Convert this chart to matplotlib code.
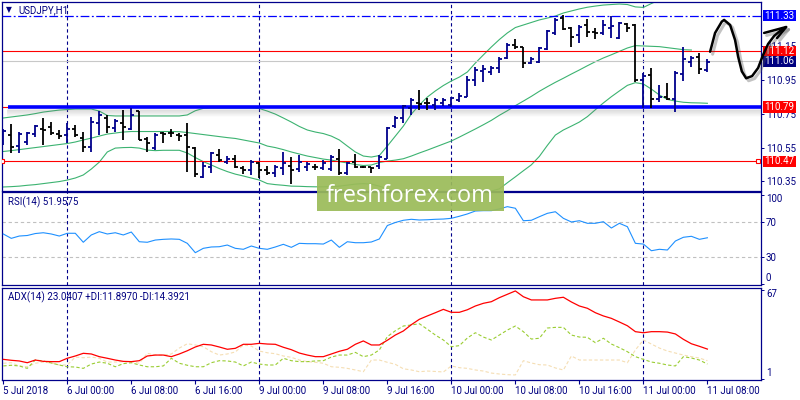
import numpy as np
import matplotlib
matplotlib.use('Agg')
import matplotlib.pyplot as plt
from matplotlib import transforms
from matplotlib.patches import Rectangle

plt.rcParams['font.family'] = ['Roboto', 'DejaVu Sans']

# USDJPY H1 bars, 5 Jul 16:00 .. 11 Jul 08:00
bar_open = [110.636, 110.624, 110.559, 110.585, 110.630, 110.660, 110.673, 110.630, 110.624, 110.660,
            110.608, 110.555, 110.695, 110.723, 110.666, 110.697, 110.658, 110.768, 110.599, 110.545,
            110.634, 110.638, 110.624, 110.624, 110.545, 110.377, 110.437, 110.506, 110.466, 110.480,
            110.427, 110.417, 110.457, 110.417, 110.397, 110.427, 110.441, 110.421, 110.437, 110.437,
            110.427, 110.421, 110.480, 110.397, 110.466, 110.437, 110.433, 110.441, 110.480, 110.678,
            110.723, 110.782, 110.815, 110.815, 110.802, 110.815, 110.802, 110.831, 110.851, 110.950,
            111.003, 110.999, 111.019, 111.078, 111.157, 111.143, 111.048, 111.058, 111.131, 111.226,
            111.315, 111.256, 111.216, 111.275, 111.235, 111.230, 111.256, 111.196, 111.281, 111.275,
            110.950, 110.979, 110.836, 110.847, 110.836, 110.985, 111.058, 111.088, 111.009]
bar_high = [110.660, 110.689, 110.642, 110.644, 110.683, 110.725, 110.703, 110.654, 110.695, 110.683,
            110.644, 110.733, 110.766, 110.743, 110.719, 110.772, 110.784, 110.768, 110.614, 110.634,
            110.644, 110.658, 110.638, 110.693, 110.555, 110.466, 110.525, 110.540, 110.500, 110.506,
            110.441, 110.476, 110.466, 110.441, 110.447, 110.525, 110.496, 110.506, 110.466, 110.453,
            110.476, 110.506, 110.540, 110.466, 110.512, 110.441, 110.437, 110.506, 110.673, 110.737,
            110.802, 110.841, 110.891, 110.841, 110.841, 110.841, 110.847, 110.871, 110.973, 111.028,
            111.038, 111.032, 111.084, 111.167, 111.190, 111.147, 111.084, 111.143, 111.246, 111.315,
            111.334, 111.261, 111.275, 111.309, 111.256, 111.305, 111.328, 111.295, 111.289, 111.281,
            110.989, 111.019, 110.920, 110.930, 111.005, 111.143, 111.092, 111.108, 111.072]
bar_low = [110.565, 110.519, 110.519, 110.565, 110.614, 110.565, 110.624, 110.599, 110.577, 110.614,
           110.525, 110.525, 110.624, 110.634, 110.644, 110.595, 110.654, 110.595, 110.522, 110.535,
           110.579, 110.614, 110.591, 110.407, 110.377, 110.368, 110.398, 110.466, 110.453, 110.427,
           110.393, 110.388, 110.368, 110.388, 110.377, 110.388, 110.334, 110.407, 110.411, 110.417,
           110.417, 110.413, 110.388, 110.388, 110.427, 110.427, 110.398, 110.421, 110.480, 110.666,
           110.693, 110.743, 110.772, 110.772, 110.772, 110.796, 110.792, 110.821, 110.847, 110.914,
           110.940, 110.979, 110.993, 111.072, 111.131, 111.019, 111.044, 111.048, 111.127, 111.216,
           111.246, 111.147, 111.170, 111.206, 111.190, 111.216, 111.196, 111.190, 111.235, 110.940,
           110.782, 110.782, 110.821, 110.831, 110.762, 110.946, 111.028, 110.985, 110.999]
bar_close = [110.648, 110.555, 110.630, 110.634, 110.677, 110.654, 110.634, 110.618, 110.660, 110.624,
             110.555, 110.703, 110.743, 110.672, 110.709, 110.672, 110.743, 110.595, 110.575, 110.624,
             110.632, 110.634, 110.621, 110.555, 110.393, 110.441, 110.516, 110.476, 110.480, 110.433,
             110.417, 110.466, 110.417, 110.397, 110.433, 110.457, 110.417, 110.466, 110.453, 110.433,
             110.460, 110.496, 110.397, 110.457, 110.437, 110.433, 110.429, 110.492, 110.664, 110.725,
             110.796, 110.831, 110.808, 110.812, 110.831, 110.831, 110.841, 110.855, 110.950, 111.009,
             111.015, 111.019, 111.072, 111.157, 111.143, 111.052, 111.072, 111.137, 111.241, 111.305,
             111.250, 111.206, 111.265, 111.235, 111.230, 111.275, 111.269, 111.289, 111.256, 110.950,
             110.973, 110.836, 110.851, 110.836, 110.993, 111.072, 111.078, 111.013, 111.058]

# Bollinger bands
bb_upper = [110.725, 110.731, 110.737, 110.743, 110.751, 110.760, 110.766, 110.772, 110.775, 110.778,
            110.778, 110.778, 110.766, 110.740, 110.737, 110.737, 110.737, 110.737, 110.737, 110.737,
            110.737, 110.737, 110.737, 110.743, 110.768, 110.782, 110.784, 110.784, 110.784, 110.784,
            110.784, 110.784, 110.781, 110.766, 110.748, 110.725, 110.701, 110.675, 110.654, 110.642,
            110.633, 110.618, 110.595, 110.559, 110.524, 110.500, 110.494, 110.503, 110.559, 110.618,
            110.677, 110.748, 110.802, 110.849, 110.885, 110.917, 110.944, 110.967, 110.997, 111.050,
            111.098, 111.145, 111.189, 111.228, 111.260, 111.275, 111.290, 111.305, 111.316, 111.328,
            111.346, 111.358, 111.370, 111.380, 111.387, 111.393, 111.396, 111.399, 111.396, 111.382,
            111.379, 111.402, 111.423, 111.447, 111.459, 111.459, 111.464, 111.464, 111.464]
bb_middle = [110.527, 110.532, 110.538, 110.544, 110.550, 110.556, 110.562, 110.568, 110.574, 110.583,
             110.595, 110.606, 110.618, 110.630, 110.636, 110.642, 110.645, 110.645, 110.645, 110.645,
             110.645, 110.645, 110.644, 110.639, 110.633, 110.627, 110.621, 110.615, 110.609, 110.604,
             110.595, 110.586, 110.577, 110.559, 110.550, 110.538, 110.524, 110.512, 110.500, 110.491,
             110.482, 110.476, 110.467, 110.459, 110.450, 110.444, 110.447, 110.462, 110.470, 110.476,
             110.484, 110.500, 110.518, 110.535, 110.553, 110.571, 110.589, 110.612, 110.636, 110.660,
             110.685, 110.711, 110.741, 110.768, 110.798, 110.825, 110.853, 110.883, 110.910, 110.936,
             110.960, 110.985, 111.009, 111.034, 111.058, 111.080, 111.099, 111.119, 111.139, 111.153,
             111.151, 111.149, 111.147, 111.141, 111.135, 111.129, 111.127, None, None]
bb_lower = [110.317, 110.319, 110.322, 110.327, 110.331, 110.337, 110.343, 110.349, 110.358, 110.370,
            110.388, 110.423, 110.464, 110.524, 110.547, 110.550, 110.551, 110.547, 110.535, 110.532,
            110.534, 110.534, 110.534, 110.518, 110.491, 110.467, 110.447, 110.426, 110.408, 110.393,
            110.382, 110.370, 110.358, 110.337, 110.331, 110.327, 110.322, 110.321, 110.319, 110.318,
            110.318, 110.319, 110.322, 110.328, 110.334, 110.337, 110.334, 110.322, 110.305, 110.281,
            110.257, 110.240, 110.228, 110.222, 110.222, 110.228, 110.234, 110.240, 110.251, 110.263,
            110.275, 110.293, 110.306, 110.342, 110.377, 110.413, 110.448, 110.498, 110.563, 110.624,
            110.654, 110.677, 110.701, 110.733, 110.774, 110.814, 110.851, 110.885, 110.918, 110.934,
            110.926, 110.896, 110.861, 110.835, 110.825, 110.818, 110.815, 110.814, 110.812]

rsi = [56.2, 51.3, 53.9, 54.5, 56.7, 57.6, 56.2, 53.9, 57.0, 57.0,
       46.9, 55.1, 58.8, 56.2, 57.6, 55.1, 58.4, 47.5, 46.9, 49.4,
       50.2, 50.6, 50.2, 45.7, 35.2, 40.1, 41.6, 41.9, 43.8, 40.1,
       39.0, 42.7, 40.1, 39.0, 41.6, 44.6, 41.2, 45.7, 45.3, 45.3,
       44.9, 49.4, 41.2, 47.5, 46.4, 46.4, 47.2, 50.6, 65.7, 69.1,
       71.6, 72.7, 71.9, 72.2, 72.7, 73.0, 73.8, 76.1, 78.7, 82.0,
       82.4, 82.4, 84.3, 86.9, 85.1, 71.1, 71.6, 75.6, 79.4, 81.2,
       73.8, 69.7, 71.1, 68.2, 68.2, 70.0, 62.9, 68.2, 64.4, 45.7,
       44.9, 37.4, 39.0, 38.2, 48.3, 52.5, 53.6, 50.2, 51.9575]

adx = [15.4, 14.7, 14.2, 12.9, 14.9, 13.9, 13.7, 13.7, 16.2, 17.9,
       19.9, 19.4, 17.4, 16.2, 14.9, 13.9, 13.7, 14.4, 17.9, 18.6,
       18.6, 17.4, 19.4, 21.8, 24.6, 26.6, 26.1, 24.6, 22.9, 23.6,
       26.6, 26.6, 27.3, 26.8, 26.6, 24.4, 22.6, 20.1, 18.6, 17.4,
       17.4, 19.4, 21.4, 22.9, 26.6, 29.1, 26.1, 26.1, 29.6, 33.5,
       36.5, 41.2, 45.2, 47.7, 50.1, 52.6, 50.4, 50.4, 52.3, 55.1,
       57.1, 58.3, 61.3, 63.8, 66.3, 62.0, 59.6, 59.6, 59.6, 60.8,
       61.6, 58.1, 55.1, 53.4, 50.1, 47.7, 45.9, 43.2, 40.4, 36.0,
       35.2, 36.0, 36.0, 35.7, 34.3, 30.3, 27.0, 25.1, 23.0407]
plus_di = [10.5, 11.0, 10.5, 8.7, 14.9, 14.2, 12.7, 11.2, 9.9, 9.7,
           8.7, 11.9, 13.4, 12.5, 9.9, 12.2, 12.9, 11.2, 9.9, 9.9,
           10.5, 16.2, 12.5, 11.0, 9.9, 9.9, 12.9, 14.4, 14.2, 13.4,
           10.5, 13.4, 11.9, 11.2, 11.2, 16.2, 14.4, 13.7, 13.7, 14.2,
           14.4, 17.1, 18.6, 18.6, 20.6, 17.4, 18.6, 22.4, 32.3, 36.7,
           40.2, 41.0, 41.9, 37.8, 33.5, 29.8, 24.8, 25.6, 31.3, 35.2,
           32.0, 29.8, 33.5, 37.2, 40.2, 36.0, 30.5, 31.1, 38.7, 39.2,
           39.2, 33.5, 32.0, 31.8, 27.8, 31.1, 26.8, 24.1, 21.1, 17.4,
           15.4, 13.4, 12.5, 11.2, 10.5, 17.4, 16.4, 14.9, 11.8970]
minus_di = [12.5, 12.9, 10.5, 9.9, 12.5, 13.4, 12.7, 11.2, 11.2, 17.1,
            16.6, 17.1, 16.2, 13.4, 13.4, 13.7, 13.7, 12.5, 19.9, 18.6,
            18.6, 19.4, 23.8, 27.0, 26.1, 24.8, 21.1, 18.6, 19.4, 20.9,
            26.1, 25.3, 21.6, 20.3, 19.6, 17.9, 16.9, 14.9, 13.7, 13.2,
            12.5, 9.9, 9.5, 8.7, 7.5, 6.2, 14.9, 14.9, 13.2, 11.7,
            8.4, 7.5, 6.2, 6.7, 6.4, 6.0, 10.5, 9.2, 8.7, 7.5,
            6.7, 5.2, 4.5, 4.0, 3.8, 14.4, 12.7, 11.4, 11.2, 9.0,
            7.5, 17.9, 14.9, 14.9, 14.9, 14.9, 14.9, 14.9, 12.9, 22.4,
            29.8, 26.8, 23.8, 21.6, 20.1, 18.6, 17.4, 16.4, 14.3921]

time_labels = ['5 Jul 2018', '6 Jul 00:00', '6 Jul 08:00', '6 Jul 16:00', '9 Jul 00:00', '9 Jul 08:00',
               '9 Jul 16:00', '10 Jul 00:00', '10 Jul 08:00', '10 Jul 16:00', '11 Jul 00:00', '11 Jul 08:00']
hours_per_label = 8

price_ticks = [111.15, 110.95, 110.75, 110.55, 110.35]
level_prices = [111.33, 111.12, 111.06, 110.79, 110.47]
level_names = ['111.33', '111.12', '111.06', '110.79', '110.47']
level_box = ['#0000ff', '#ff0000', '#000080', '#ff0000', '#ff0000']
support = 110.79

# hand drawn forecast curve (bar index, price)
sketch_x = [88.34, 88.96, 89.80, 90.09, 90.84, 91.46, 91.84, 92.30, 92.84, 93.59, 94.34, 94.96, 95.59, 96.34, 97.09, 97.84]
sketch_p = [111.117, 111.228, 111.295, 111.305, 111.275, 111.186, 111.088, 111.001, 110.960, 110.973,
            111.021, 111.098, 111.163, 111.210, 111.240, 111.263]
head_x = [95.09, 97.84, 96.71]
head_p = [111.228, 111.263, 111.198]

navy = '#000080'
frame = '#00008b'

W, H = 800, 400
fig = plt.figure(figsize=(8, 4), dpi=100)


def panel(top, bottom):
    return [2 / W, 1 - bottom / H, 759 / W, (bottom - top) / H]


ax = fig.add_axes(panel(2, 190.7))
ax_rsi = fig.add_axes(panel(192.5, 285), sharex=ax)
ax_adx = fig.add_axes(panel(287.5, 380), sharex=ax)

x = np.arange(len(bar_close))
o = np.array(bar_open)
c = np.array(bar_close)
cols = np.where(c >= o, frame, 'black')

for a in (ax, ax_rsi, ax_adx):
    for s in a.spines.values():
        s.set_color(frame)
        s.set_linewidth(0.9)
    a.yaxis.tick_right()
    a.tick_params(axis='y', colors=frame, labelcolor=navy, length=2, width=0.7, pad=1.5, labelsize=7)
    a.tick_params(axis='x', length=0, labelbottom=False)
    for k, lab in enumerate(time_labels):
        if lab.endswith('00:00'):
            a.axvline(k * hours_per_label, color=frame, lw=0.8, ls=(0, (3, 2.5)), zorder=1)

ax.set_xlim(-0.16, 94.7)

# main price panel
ax.set_ylim(110.295, 111.411)
ax.set_yticks(price_ticks)
ax.set_yticklabels(['%.2f' % p for p in price_ticks])

ax.plot(x, bb_upper, color='#3cb371', lw=0.8, zorder=2)
ax.plot(x, np.array(bb_middle, dtype=float), color='#3cb371', lw=0.8, zorder=2)
ax.plot(x, bb_lower, color='#3cb371', lw=0.8, zorder=2)

ax.axhline(level_prices[0], color='#0000ff', lw=0.9, ls=(0, (7, 2, 1.5, 2)), zorder=2)
ax.axhline(level_prices[1], color='#ff0000', lw=0.8, zorder=2)
ax.axhline(level_prices[2], color='#c8c8c8', lw=0.8, zorder=2)
ax.axhline(level_prices[3], color='#ff0000', lw=0.8, zorder=2)
ax.axhline(level_prices[4], color='#ff0000', lw=0.8, zorder=2)
ax.plot([x[0] - 0.1, 94.3], [level_prices[4]] * 2, ls='none', marker='s', ms=3.5, mfc='white', mec='#ff0000', mew=0.8, zorder=3)

# thick support line with its soft shadow
for k in range(1, 8):
    sh = transforms.offset_copy(ax.transData, fig=fig, x=0, y=-1.5 - k, units='dots')
    ax.plot([x[0] + 0.6, 94.7], [support] * 2, color='#707070', lw=1.2, alpha=0.18 * (1 - k / 8), transform=sh, zorder=3)
ax.plot([x[0] + 0.6, 94.7], [support] * 2, color='#0000ff', lw=2.6, zorder=4, solid_capstyle='butt')

ax.vlines(x, bar_low, bar_high, colors=cols, lw=1.3, zorder=5)
ax.hlines(bar_open, x - 0.38, x, colors=cols, lw=1.3, zorder=5)
ax.hlines(bar_close, x, x + 0.38, colors=cols, lw=1.3, zorder=5)

# price level boxes on the right scale
box_tr = transforms.blended_transform_factory(fig.transFigure, ax.transData)
for p, name, bc in zip(level_prices, level_names, level_box):
    ax.add_patch(Rectangle((762.5 / W, p - 0.033), 33 / W, 0.066, transform=box_tr,
                           facecolor=bc, edgecolor='none', clip_on=False, zorder=8))
    ax.text(779 / W, p, name, transform=box_tr, color='white', fontsize=7, ha='center', va='center',
            clip_on=False, zorder=9)

# forecast sketch
sh_tr = transforms.offset_copy(ax.transData, fig=fig, x=2.5, y=-2.5, units='dots')
for xs, ps in ((sketch_x, sketch_p), (head_x, head_p)):
    ax.plot(xs, ps, color='#555555', lw=2.2, alpha=0.35, transform=sh_tr, clip_on=False, zorder=10,
            solid_capstyle='round', solid_joinstyle='round')
    ax.plot(xs, ps, color='black', lw=1.8, clip_on=False, zorder=11,
            solid_capstyle='round', solid_joinstyle='round')

fig.text(9 / W, 1 - 10 / H, '\u25bc', fontsize=5.5, color=navy, ha='center', va='center', family='DejaVu Sans')
fig.text(18 / W, 1 - 10 / H, 'USDJPY,H1', fontsize=7, color=navy, ha='left', va='center')

# RSI panel
ax_rsi.set_ylim(-1.1, 102.8)
ax_rsi.set_yticks([100, 70, 30, 0])
ax_rsi.set_yticklabels(['', '70', '30', ''])
for lv in (70, 30):
    ax_rsi.axhline(lv, color='#c0c0c0', lw=0.8, ls=(0, (3, 2.5)), zorder=1)
ax_rsi.plot(x, rsi, color='#1e90ff', lw=0.8, zorder=3)
fig.text(8 / W, 1 - 202 / H, 'RSI(14) %.4f' % rsi[-1], fontsize=7, color=navy, ha='left', va='center')

# ADX panel
ax_adx.set_ylim(0.04, 68.86)
ax_adx.set_yticks([67, 1])
ax_adx.set_yticklabels(['', ''])
ax_adx.plot(x, minus_di, color='#f5deb3', lw=0.8, ls=(0, (3, 2)), zorder=2)
ax_adx.plot(x, plus_di, color='#9acd32', lw=0.8, ls=(0, (3, 2)), zorder=3)
ax_adx.plot(x, adx, color='#ff0000', lw=0.9, zorder=4)
fig.text(8 / W, 1 - 297 / H, 'ADX(14) %.4f +DI:%.4f -DI:%.4f' % (adx[-1], plus_di[-1], minus_di[-1]),
         fontsize=7, color=navy, ha='left', va='center')


def edge_label(a, value, text, shift):
    tr = transforms.offset_copy(transforms.blended_transform_factory(a.transAxes, a.transData),
                                fig=fig, x=5, y=shift, units='dots')
    a.text(1, value, text, transform=tr, fontsize=7, color=navy, ha='left', va='center', clip_on=False)


edge_label(ax_rsi, 100, '100', -4)
edge_label(ax_rsi, 0, '0', 6)
edge_label(ax_adx, 67, '67', -4)
edge_label(ax_adx, 1, '1', 6)

ax_adx.set_xticks(x[::hours_per_label])
ax_adx.set_xticklabels(time_labels)
ax_adx.tick_params(axis='x', length=3, width=0.8, colors=frame, labelcolor=navy, labelsize=7, pad=1,
                   labelbottom=True, direction='out')
for lab in ax_adx.get_xticklabels():
    lab.set_ha('left')
ax.tick_params(axis='x', length=0)
ax_rsi.tick_params(axis='x', length=0)

# watermark
fig.add_artist(Rectangle((316.7 / W, 1 - 210.7 / H), 187.3 / W, 35 / H, transform=fig.transFigure,
                         facecolor='#9bbb59', edgecolor='none', alpha=0.93, zorder=20))
fig.text(410 / W, 1 - 201.5 / H, 'freshforex.com', fontsize=17, color='white', family='Open Sans',
         ha='center', va='baseline', zorder=21)

fig.savefig('out.png', dpi=100, facecolor='white')
